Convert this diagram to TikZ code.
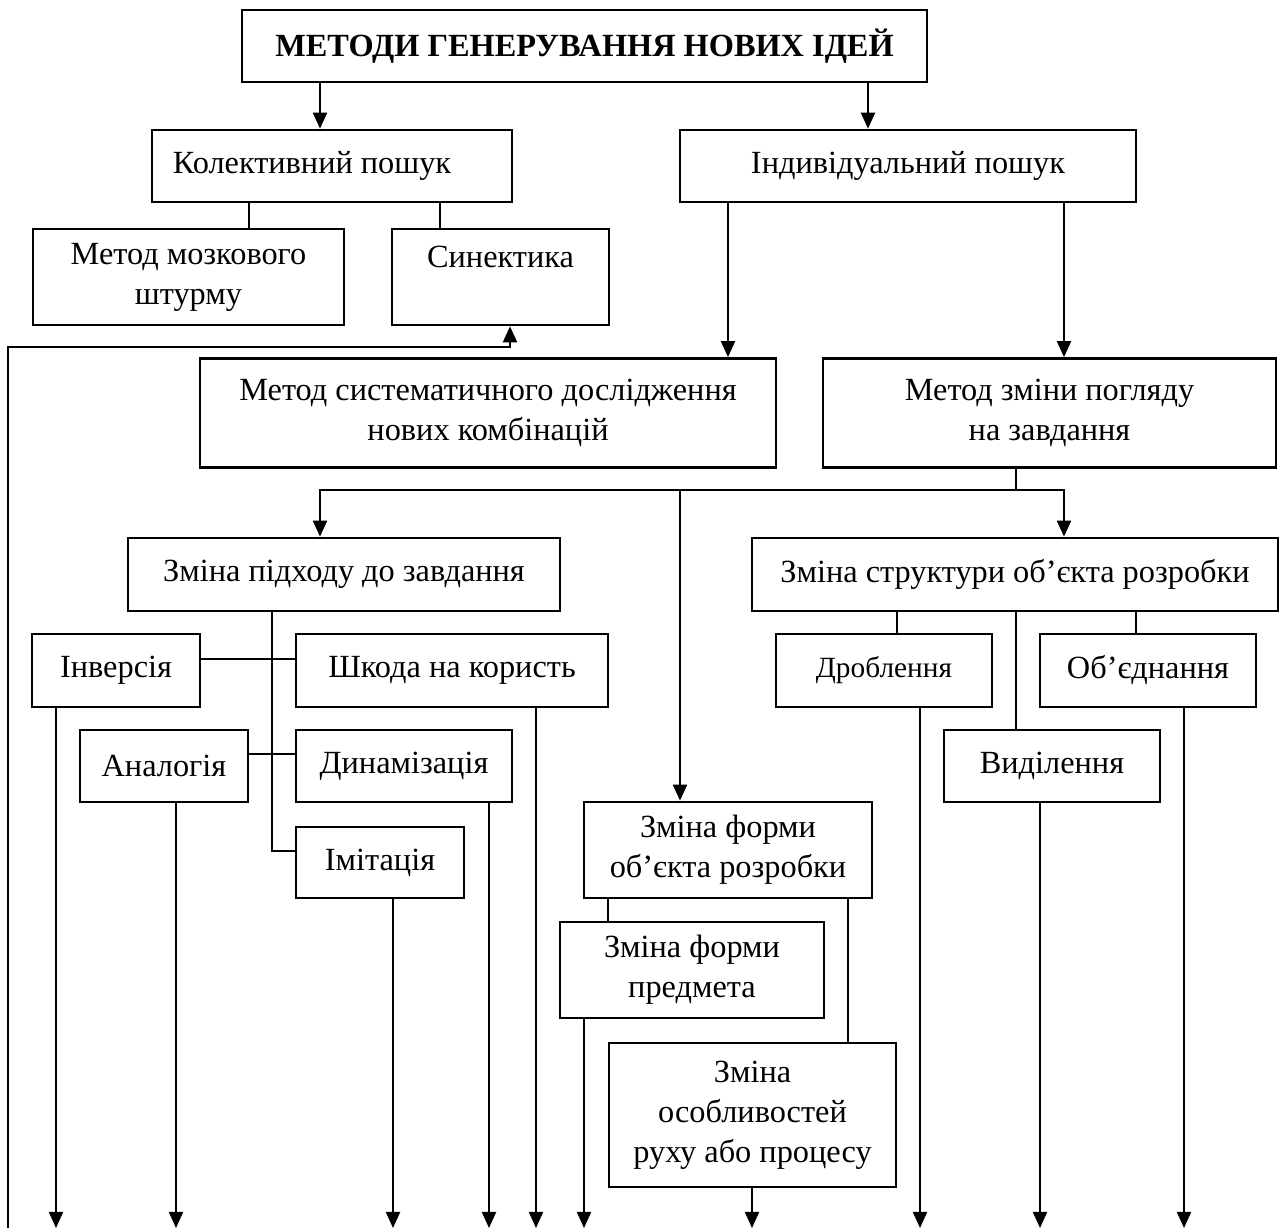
\documentclass[tikz,border=0pt]{standalone}
\usepackage{fontspec}
\setmainfont{Liberation Serif}
\usetikzlibrary{arrows.meta}
\newcommand\diagfont{\fontsize{9.7}{12}\selectfont}

\begin{document}
\begin{tikzpicture}[
  x=0.3pt, y=-0.3pt,
  font=\diagfont,
  box/.style={draw, line width=0.8pt, align=center, inner sep=0pt},
  sz/.style 2 args={minimum width=#1*0.3pt, minimum height=#2*0.3pt},
  head/.style={box, font=\diagfont\bfseries},
  small/.style={box, font=\fontsize{8.8}{11}\selectfont},
  link/.style={line width=0.6pt},
  arr/.style={link, -{Triangle[length=4.8pt, width=4.2pt]}}]
\useasboundingbox (0,0) rectangle (1281,1231);

% boxes
\node[head, sz={685}{72}] (title) at (584.5,46) {МЕТОДИ ГЕНЕРУВАННЯ НОВИХ ІДЕЙ};
\node[box, sz={360}{72}] (koll) at (332,166) {Колективний пошук\hspace{12pt}};
\node[box, sz={456}{72}] (ind) at (908,166) {Індивідуальний пошук};
\node[box, sz={311}{96}] (mozk) at (188.5,277) {Метод мозкового\\штурму};
\node[box, sz={217}{96}] (syn) at (500.5,277) {Синектика\\\mbox{}};
\node[box, sz={576}{109}] (syst) at (488,413) {Метод систематичного дослідження\\нових комбінацій};
\node[box, sz={453}{109}] (zmin) at (1049.5,413) {Метод зміни погляду\\на завдання};
\node[box, sz={432}{73}] (pidh) at (344,574.5) {Зміна підходу до завдання};
\node[box, sz={526}{73}] (strukt) at (1015,574.5) {Зміна структури об’єкта розробки};
\node[box, sz={168}{73}] (inv) at (116,670.5) {Інверсія};
\node[box, sz={312}{73}] (shk) at (452,670.5) {Шкода на користь};
\node[box, sz={168}{72}] (anal) at (164,766) {Аналогія};
\node[box, sz={216}{72}] (dyn) at (404,766) {Динамізація};
\node[box, sz={168}{71}] (imit) at (380,862.5) {Імітація};
\node[small, sz={216}{73}] (drob) at (884,670.5) {Дроблення};
\node[box, sz={216}{73}] (obyed) at (1148,670.5) {Об’єднання};
\node[box, sz={216}{72}] (vyd) at (1052,766) {Виділення};
\node[box, sz={288}{96}] (formob) at (728,850) {Зміна форми\\об’єкта розробки};
\node[box, sz={264}{96}] (formpr) at (692,970) {Зміна форми\\предмета};
\node[box, sz={287}{144}] (osob) at (752.5,1115) {Зміна\\особливостей\\руху або процесу};

\coordinate (split) at (1016,490);
\coordinate (lbot) at (8,1228);
\coordinate (lturn) at (8,347);
\coordinate (bot) at (0,1228);

% connectors
\draw[arr] (title.south -| 320,0) -- (koll.north -| 320,0);
\draw[arr] (title.south -| 868,0) -- (ind.north -| 868,0);
\draw[link] (koll.south -| 249,0) -- (mozk.north -| 249,0);
\draw[link] (koll.south -| 440,0) -- (syn.north -| 440,0);
\draw[arr] (lbot) -- (lturn) -| (syn.south -| 510,0);
\draw[arr] (ind.south -| 728,0) -- (syst.north -| 728,0);
\draw[arr] (ind.south -| 1064,0) -- (zmin.north -| 1064,0);
\draw[link] (zmin.south -| split) -- (split);
\draw[arr] (split) -| (strukt.north -| 1064,0);
\draw[arr] (split) -| (pidh.north -| 320,0);
\draw[arr] (split -| 680,0) -- (formob.north -| 680,0);
\draw[link] (pidh.south -| 272,0) |- (imit.west |- 0,851);
\draw[link] (inv.east |- 0,659) -- (shk.west |- 0,659);
\draw[link] (anal.east |- 0,754) -- (dyn.west |- 0,754);
\draw[link] (strukt.south -| 897,0) -- (drob.north -| 897,0);
\draw[link] (strukt.south -| split) -- (vyd.north -| split);
\draw[link] (strukt.south -| 1136,0) -- (obyed.north -| 1136,0);
\draw[link] (formob.south -| 608,0) -- (formpr.north -| 608,0);
\draw[link] (formob.south -| 848,0) -- (osob.north -| 848,0);
\foreach \n/\x in {inv/56, anal/176, imit/393, dyn/489, shk/536,
    formpr/584, osob/752, drob/920, vyd/1040, obyed/1184}
  \draw[arr] (\n.south -| \x,0) -- (\x,0 |- bot);
\end{tikzpicture}
\end{document}
